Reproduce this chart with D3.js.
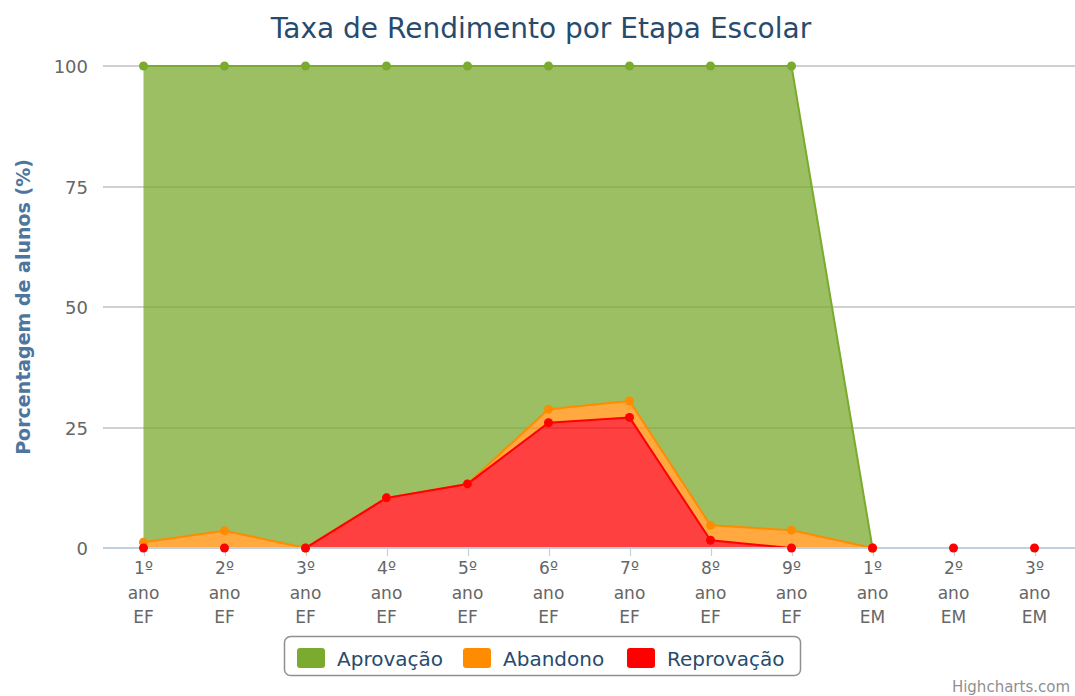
<!DOCTYPE html>
<html>
<head>
<meta charset="utf-8">
<script src="https://cdn.jsdelivr.net/npm/d3@7"></script>
<style>
	body { margin: 0; background: #fff; }
	text { font-family: "DejaVu Sans", "Lucida Grande", sans-serif; }
</style>
</head>
<body>
<div id="chart"></div>
<script>
//--------------------------------- Data ---------------------------------------

var categories = ["1º ano EF", "2º ano EF", "3º ano EF", "4º ano EF", "5º ano EF", "6º ano EF",
	"7º ano EF", "8º ano EF", "9º ano EF", "1º ano EM", "2º ano EM", "3º ano EM"];

var aprovacao  = [98.8, 96.4, 100, 89.6, 86.7, 71.2, 69.5, 95.3, 96.3, 0, null, null];
var abandono   = [1.2, 3.6, 0, 0, 0, 2.8, 3.4, 3.1, 3.7, 0, null, null];
var reprovacao = [0, 0, 0, 10.4, 13.3, 26.0, 27.1, 1.6, 0, 0, 0, 0];

var yTicks = [0, 25, 50, 75, 100];

//series in legend order (first one ends up on top of the stack)
var seriesInfo = [
	{name: "Aprovação",  key: "aprovacao",  values: aprovacao,  color: "#7aaa2e"},
	{name: "Abandono",   key: "abandono",   values: abandono,   color: "#ff8c00"},
	{name: "Reprovação", key: "reprovacao", values: reprovacao, color: "#ff0000"}
];

//--------------------------------- Set up svg ---------------------------------------

var width = 1075, height = 696;
var plot = {left: 103, right: 1075, top: 66, bottom: 548};

var svg = d3.select("#chart")
	.append("svg")
	.attr("width", width)
	.attr("height", height);

var x = d3.scalePoint()
	.domain(categories)
	.range([plot.left, plot.right])
	.padding(0.5);

var y = d3.scaleLinear()
	.domain([0, 100])
	.range([plot.bottom, plot.top]);

//build rows and stack them bottom-up
var rows = categories.map(function(c, i) {
	var r = {cat: c, i: i};
	seriesInfo.forEach(function(s) { r[s.key] = s.values[i]; });
	return r;
});

var stack = d3.stack()
	.keys(seriesInfo.map(function(s) { return s.key; }).reverse())
	.value(function(d, key) { return d[key] === null ? 0 : d[key]; });

var stacked = stack(rows);
var stackByKey = {};
stacked.forEach(function(s) { stackByKey[s.key] = s; });

//---------------------------------------- Title ----------------------------------------

svg.append("text")
	.attr("x", 541)
	.attr("y", 38)
	.attr("text-anchor", "middle")
	.style("font-size", "28px")
	.style("fill", "#274b6d")
	.text("Taxa de Rendimento por Etapa Escolar");

//---------------------------------------- Grid & axes ----------------------------------------

svg.selectAll(".gridLine")
	.data(yTicks.filter(function(d) { return d > 0; }))
	.enter().append("line")
	.attr("class", "gridLine")
	.attr("x1", plot.left)
	.attr("x2", plot.right)
	.attr("y1", function(d) { return Math.round(y(d)); })
	.attr("y2", function(d) { return Math.round(y(d)); })
	.style("stroke", "#c0c0c0")
	.style("stroke-width", 1.6);

svg.selectAll(".yLabel")
	.data(yTicks)
	.enter().append("text")
	.attr("class", "yLabel")
	.attr("x", 88)
	.attr("y", function(d) { return y(d) + 7; })
	.attr("text-anchor", "end")
	.style("font-size", "18px")
	.style("fill", "#666")
	.text(function(d) { return d; });

svg.append("text")
	.attr("transform", "translate(30," + ((plot.top + plot.bottom) / 2) + ") rotate(-90)")
	.attr("text-anchor", "middle")
	.style("font-size", "19px")
	.style("font-weight", "bold")
	.style("fill", "#4d759e")
	.text("Porcentagem de alunos (%)");

//---------------------------------------- Areas ----------------------------------------

svg.append("clipPath")
	.attr("id", "plotClip")
	.append("rect")
	.attr("x", plot.left)
	.attr("y", plot.top - 5)
	.attr("width", plot.right - plot.left)
	.attr("height", plot.bottom - plot.top + 4);

var seriesWrapper = svg.append("g").attr("clip-path", "url(#plotClip)");

var area = d3.area()
	.defined(function(d) { return d.data[d.key] !== null; })
	.x(function(d) { return x(d.data.cat); })
	.y0(function(d) { return y(d[0]); })
	.y1(function(d) { return y(d[1]); });

var line = d3.line()
	.defined(function(d) { return d.data[d.key] !== null; })
	.x(function(d) { return x(d.data.cat); })
	.y(function(d) { return y(d[1]); });

function pointsOf(s) {
	return stackByKey[s.key].map(function(d) { d.key = s.key; return d; });
}

seriesInfo.forEach(function(s) {
	var pts = pointsOf(s);
	seriesWrapper.append("path")
		.attr("d", area(pts))
		.style("fill", s.color)
		.style("fill-opacity", 0.75);
	seriesWrapper.append("path")
		.attr("d", line(pts))
		.style("fill", "none")
		.style("stroke", s.color)
		.style("stroke-width", 2)
		.style("stroke-linejoin", "round");
});

//x axis line and ticks drawn over series
svg.append("line")
	.attr("x1", plot.left)
	.attr("x2", plot.right)
	.attr("y1", plot.bottom)
	.attr("y2", plot.bottom)
	.style("stroke", "#c0d0e0")
	.style("stroke-width", 2);

svg.selectAll(".xTick")
	.data(categories)
	.enter().append("line")
	.attr("class", "xTick")
	.attr("x1", function(d) { return Math.round(x(d)) + 0.5; })
	.attr("x2", function(d) { return Math.round(x(d)) + 0.5; })
	.attr("y1", plot.bottom)
	.attr("y2", plot.bottom + 8)
	.style("stroke", "#c0d0e0")
	.style("stroke-width", 1.2);

var xLabels = svg.selectAll(".xLabel")
	.data(categories)
	.enter().append("text")
	.attr("class", "xLabel")
	.attr("text-anchor", "middle")
	.style("font-size", "17px")
	.style("fill", "#666");

xLabels.selectAll("tspan")
	.data(function(d) { return d.split(" ").map(function(w) { return {w: w, c: d}; }); })
	.enter().append("tspan")
	.attr("x", function(d) { return x(d.c); })
	.attr("y", function(d, i) { return 574 + i * 24.5; })
	.text(function(d) { return d.w; });

//---------------------------------------- Markers ----------------------------------------

seriesInfo.forEach(function(s) {
	svg.selectAll(".marker-" + s.key)
		.data(pointsOf(s).filter(function(d) { return d.data[s.key] !== null; }))
		.enter().append("circle")
		.attr("class", "marker-" + s.key)
		.attr("cx", function(d) { return x(d.data.cat); })
		.attr("cy", function(d) { return y(d[1]); })
		.attr("r", 4.5)
		.style("fill", s.color);
});

//---------------------------------------- Legend ----------------------------------------

var legend = svg.append("g").attr("transform", "translate(284,636)");

legend.append("rect")
	.attr("x", 0.5)
	.attr("y", 0.5)
	.attr("width", 516)
	.attr("height", 39)
	.attr("rx", 6)
	.style("fill", "#fff")
	.style("stroke", "#909090")
	.style("stroke-width", 1.5);

var itemX = [13, 179, 343];
var legendItems = legend.selectAll(".legendItem")
	.data(seriesInfo)
	.enter().append("g")
	.attr("class", "legendItem")
	.attr("transform", function(d, i) { return "translate(" + itemX[i] + ",0)"; });

legendItems.append("rect")
	.attr("x", 0)
	.attr("y", 12)
	.attr("width", 28)
	.attr("height", 20)
	.attr("rx", 3)
	.style("fill", function(d) { return d.color; });

legendItems.append("text")
	.attr("x", 40)
	.attr("y", 30)
	.style("font-size", "20px")
	.style("fill", "#274b6d")
	.text(function(d) { return d.name; });

//---------------------------------------- Credits ----------------------------------------

svg.append("text")
	.attr("x", 1070)
	.attr("y", 692)
	.attr("text-anchor", "end")
	.style("font-size", "15px")
	.style("fill", "#909090")
	.text("Highcharts.com");
</script>
</body>
</html>
